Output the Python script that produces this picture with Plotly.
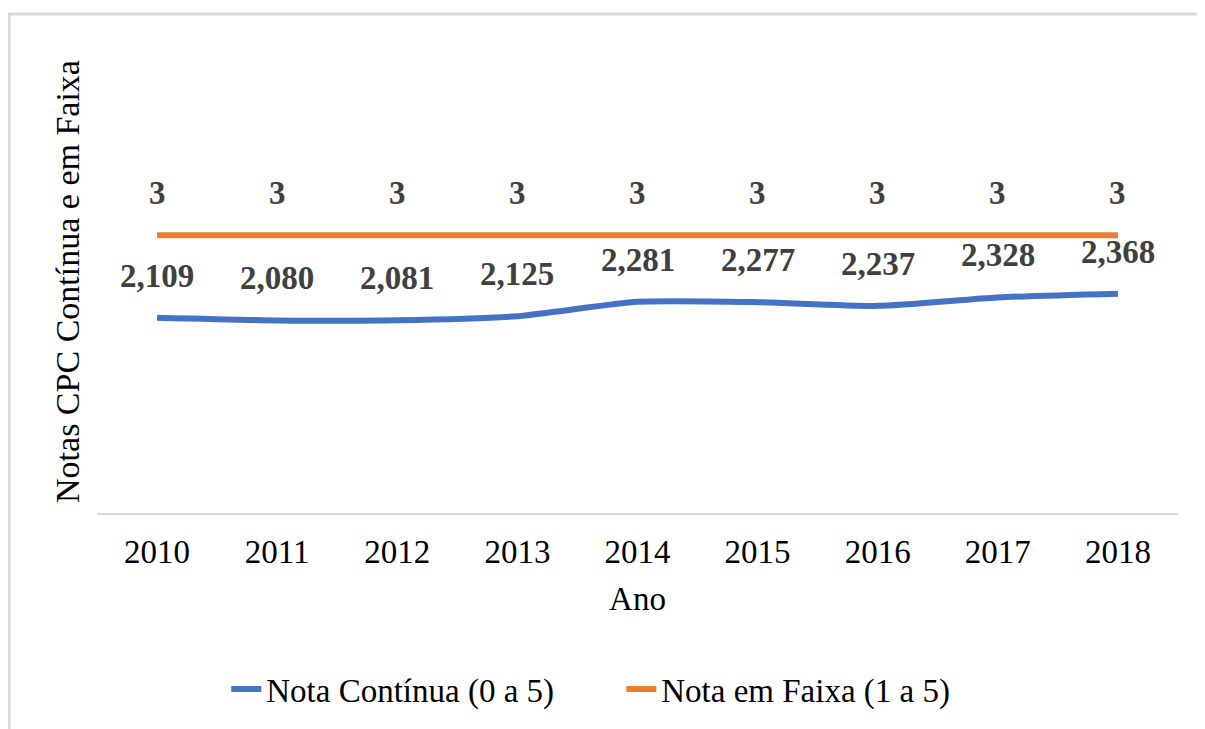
import plotly.graph_objects as go

anos = ["2010", "2011", "2012", "2013", "2014", "2015", "2016", "2017", "2018"]
nota_continua = [2.109, 2.080, 2.081, 2.125, 2.281, 2.277, 2.237, 2.328, 2.368]
nota_faixa = [3, 3, 3, 3, 3, 3, 3, 3, 3]

FONT = "Liberation Serif"
BLUE = "#4472C4"
ORANGE = "#ED7D31"
LABEL = "#404040"

fig = go.Figure()
fig.add_trace(go.Scatter(x=anos, y=nota_continua, mode="lines", name="Nota Contínua (0 a 5)",
                         line=dict(color=BLUE, width=6, shape="spline", smoothing=0.6)))
fig.add_trace(go.Scatter(x=anos, y=nota_faixa, mode="lines", name="Nota em Faixa (1 a 5)",
                         line=dict(color=ORANGE, width=6)))

# category axis: annotation x given as category index
for i, v in enumerate(nota_continua):
    fig.add_annotation(x=i, y=v, text=f"<b>{v:.3f}</b>".replace(".", ","), showarrow=False,
                       yshift=42, font=dict(family=FONT, size=33, color=LABEL))
for i, v in enumerate(nota_faixa):
    fig.add_annotation(x=i, y=v, text=f"<b>{v}</b>", showarrow=False,
                       yshift=42, font=dict(family=FONT, size=33, color=LABEL))

fig.add_shape(type="rect", xref="paper", yref="paper", x0=-0.0814, x1=1.1, y0=-0.9, y1=1.078,
              line=dict(color="#d9d9d9", width=3), fillcolor="rgba(0,0,0,0)", layer="below")

fig.update_layout(
    width=1197, height=721,
    margin=dict(l=89, r=27, t=42, b=216),
    paper_bgcolor="white", plot_bgcolor="white",
    font=dict(family=FONT, size=33, color="#000000"),
    showlegend=True,
    legend=dict(orientation="h", x=0.485, xanchor="center", y=-0.38, yanchor="middle",
                font=dict(family=FONT, size=33, color="#000000"),
                entrywidth=350, traceorder="normal"),
    xaxis=dict(type="category", range=[-0.5, 8.5], showgrid=False, showline=True,
               linecolor="#d9d9d9", linewidth=2,
               ticks="", ticklabelstandoff=8, tickfont=dict(family=FONT, size=33, color="#000000"),
               title=dict(text="Ano", standoff=18, font=dict(family=FONT, size=33, color="#000000"))),
    yaxis=dict(range=[0, 5], showgrid=False, showline=False, zeroline=False, showticklabels=False,
               ticks="",
               title=dict(text="Notas CPC Contínua e em Faixa", standoff=6,
                          font=dict(family=FONT, size=34, color="#000000"))),
)

fig.write_html("out.html")
